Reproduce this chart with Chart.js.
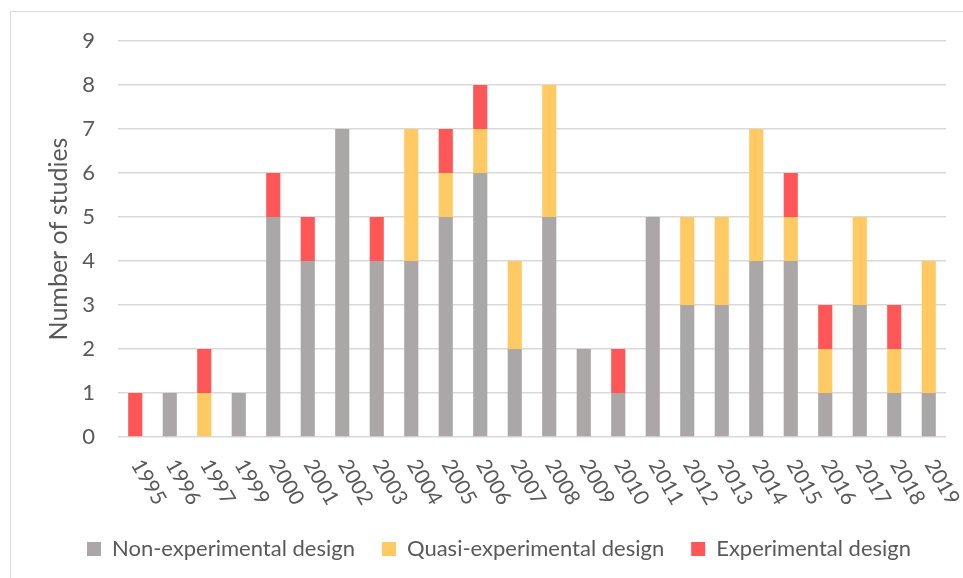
<!DOCTYPE html>
<html>
<head>
<meta charset="utf-8">
<script src="https://cdn.jsdelivr.net/npm/chart.js@4.4.1/dist/chart.umd.min.js"></script>
<style>
  html, body { margin: 0; padding: 0; background: #fff; }
  #wrap { position: relative; width: 963px; height: 578px; overflow: hidden; }
  #frame { position: absolute; left: 10px; top: 11px; width: 1000px; height: 600px;
           border-left: 1px solid #d9d9d9; border-top: 1px solid #d9d9d9; }
  canvas { position: absolute; left: 0; top: 0; }
</style>
</head>
<body>
<div id="wrap">
  <div id="frame"></div>
  <canvas id="chart" width="963" height="578"></canvas>
</div>
<script>
// Data
const years = ['1995', '1996', '1997', '1999', '2000', '2001', '2002', '2003', '2004', '2005', '2006', '2007',
               '2008', '2009', '2010', '2011', '2012', '2013', '2014', '2015', '2016', '2017', '2018', '2019'];
const nonExperimental = [0, 1, 0, 1, 5, 4, 7, 4, 4, 5, 6, 2, 5, 2, 1, 5, 3, 3, 4, 4, 1, 3, 1, 1];
const quasiExperimental = [0, 0, 1, 0, 0, 0, 0, 0, 3, 1, 1, 2, 3, 0, 0, 0, 2, 2, 3, 1, 1, 2, 1, 3];
const experimental = [1, 0, 1, 0, 1, 1, 0, 1, 0, 1, 1, 0, 0, 0, 1, 0, 0, 0, 0, 1, 1, 0, 1, 0];
const yTicks = [0, 1, 2, 3, 4, 5, 6, 7, 8, 9];
const yTitle = 'Number of studies';

const textColor = '#595959';
const fontFamily = 'Lato, "Open Sans", sans-serif';

// x labels in the reference run downward to the right, which Chart.js can't do natively,
// and the y title sits a bit away from the scale box, so both are drawn here
const axisText = {
  id: 'axisText',
  afterDraw(chart) {
    const ctx = chart.ctx;
    const xScale = chart.scales.x;
    const area = chart.chartArea;
    ctx.save();
    ctx.fillStyle = textColor;

    ctx.font = '21px ' + fontFamily;
    ctx.textAlign = 'left';
    ctx.textBaseline = 'middle';
    years.forEach((label, i) => {
      const x = xScale.getPixelForValue(i);
      ctx.save();
      ctx.translate(x + 1, xScale.top + 24);
      ctx.rotate(Math.PI / 3);
      ctx.fillText(label, 0, 0);
      ctx.restore();
    });

    ctx.font = '25px ' + fontFamily;
    ctx.textAlign = 'center';
    ctx.translate(59, (area.top + area.bottom) / 2);
    ctx.rotate(-Math.PI / 2);
    ctx.fillText(yTitle, 0, 0);
    ctx.restore();
  }
};

new Chart(document.getElementById('chart'), {
  type: 'bar',
  data: {
    labels: years,
    datasets: [
      {
        label: 'Non-experimental design',
        data: nonExperimental,
        backgroundColor: '#ABA7A7'
      },
      {
        label: 'Quasi-experimental design',
        data: quasiExperimental,
        backgroundColor: '#FFCA64'
      },
      {
        label: 'Experimental design',
        data: experimental,
        backgroundColor: '#FF5757'
      }
    ]
  },
  options: {
    responsive: false,
    animation: false,
    layout: {
      padding: { left: 52, right: 17, top: 41, bottom: 8 }
    },
    datasets: {
      bar: { categoryPercentage: 1, barPercentage: 0.41, borderWidth: 0 }
    },
    plugins: {
      tooltip: { enabled: false },
      legend: {
        position: 'bottom',
        labels: {
          boxWidth: 14,
          boxHeight: 14,
          padding: 27,
          color: textColor,
          font: { family: fontFamily, size: 22 }
        }
      }
    },
    scales: {
      x: {
        stacked: true,
        grid: { display: false },
        border: { display: false },
        ticks: { display: false },
        afterFit(scale) { scale.height = 74; }
      },
      y: {
        stacked: true,
        min: 0,
        max: 9,
        afterBuildTicks(scale) {
          scale.ticks = yTicks.map(v => ({ value: v }));
        },
        afterFit(scale) { scale.width = 66; },
        grid: { color: '#D9D9D9', lineWidth: 1.5, drawTicks: false },
        border: { display: false },
        ticks: {
          padding: 23,
          color: textColor,
          font: { family: fontFamily, size: 22 }
        }
      }
    }
  },
  plugins: [axisText]
});
</script>
</body>
</html>
